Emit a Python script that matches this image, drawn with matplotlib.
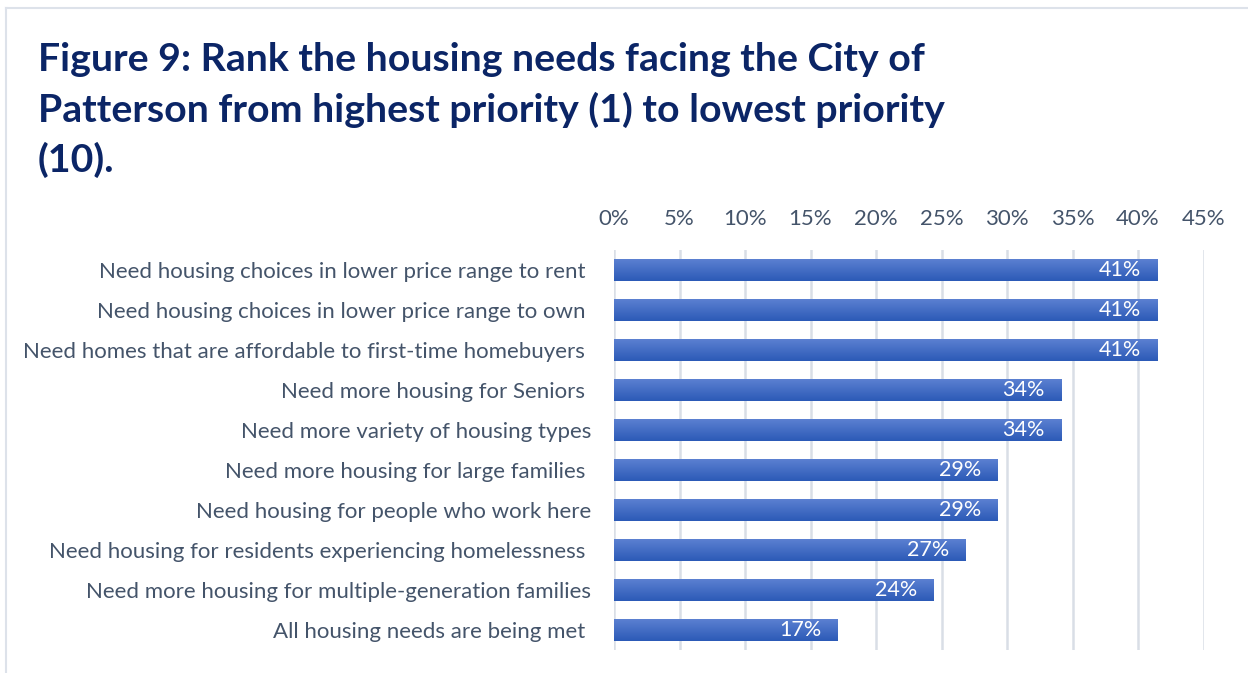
import matplotlib
matplotlib.use("Agg")
import matplotlib.pyplot as plt
import numpy as np
from matplotlib.colors import LinearSegmentedColormap

categories = [
    "Need housing choices in lower price range to rent ",
    "Need housing choices in lower price range to own ",
    "Need homes that are affordable to first-time homebuyers ",
    "Need more housing for Seniors ",
    "Need more variety of housing types",
    "Need more housing for large families ",
    "Need housing for people who work here",
    "Need housing for residents experiencing homelessness ",
    "Need more housing for multiple-generation families",
    "All housing needs are being met ",
]
responses = [17, 17, 17, 14, 14, 12, 12, 11, 10, 7]
respondents = 41
shares = [100.0 * r / respondents for r in responses]
x_ticks = [0, 5, 10, 15, 20, 25, 30, 35, 40, 45]
title = ("Figure 9: Rank the housing needs facing the City of\n"
         "Patterson from highest priority (1) to lowest priority\n"
         "(10).")

plt.rcParams['font.family'] = ['Lato', 'DejaVu Sans']
label_color = "#44546A"
grid_color = "#D9DEE6"

fig = plt.figure(figsize=(12.48, 6.73), dpi=100)
fig.patch.set_facecolor("white")

# light frame around the chart area
fig.add_artist(plt.Line2D([6/1248, 6/1248], [0, 1 - 8/673], color="#DDE2EA", lw=1.5))
fig.add_artist(plt.Line2D([6/1248, 1], [1 - 8/673, 1 - 8/673], color="#DDE2EA", lw=1.5))

ax = fig.add_axes([614/1248, 1 - 650/673, (1203.5 - 614)/1248, 400/673])
y = np.arange(len(categories))
bars = ax.barh(y, shares, height=0.53, color="#4472C4", zorder=3)

# vertical gradient fill: lighter at the top edge of each bar
cmap = LinearSegmentedColormap.from_list("bar", ["#5B80D1", "#2C5AB7"])
grad = np.linspace(0, 1, 64).reshape(-1, 1)
for b in bars:
    x0, y0 = b.get_x(), b.get_y()
    w, h = b.get_width(), b.get_height()
    im = ax.imshow(grad, cmap=cmap, aspect="auto", extent=(x0, x0 + w, y0, y0 + h),
                   origin="lower", zorder=4)
    im.set_clip_path(b)

for yi, v in zip(y, shares):
    ax.text(v - 1.25, yi, f"{v:.0f}%", ha="right", va="center", color="white",
            fontsize=15.5, zorder=5)

ax.set_xlim(0, 45)
ax.set_ylim(len(categories) - 0.5, -0.5)
ax.set_xticks(x_ticks)
ax.set_xticklabels([f"{t}%" for t in x_ticks])
ax.xaxis.tick_top()
ax.tick_params(axis="x", length=0, pad=15, labelsize=16, labelcolor=label_color)
ax.set_yticks(y)
ax.set_yticklabels(categories)
ax.tick_params(axis="y", length=0, pad=16.5, labelsize=16, labelcolor=label_color)
ax.grid(axis="x", color=grid_color, lw=1.8, zorder=0)
ax.set_axisbelow(True)
for s in ax.spines.values():
    s.set_visible(False)

fig.text(38/1248, 1 - 42/673, title, ha="left", va="top", fontsize=28.3,
         fontweight="bold", color="#0B2566", linespacing=1.48)

fig.savefig("out.png", dpi=100, facecolor="white")
